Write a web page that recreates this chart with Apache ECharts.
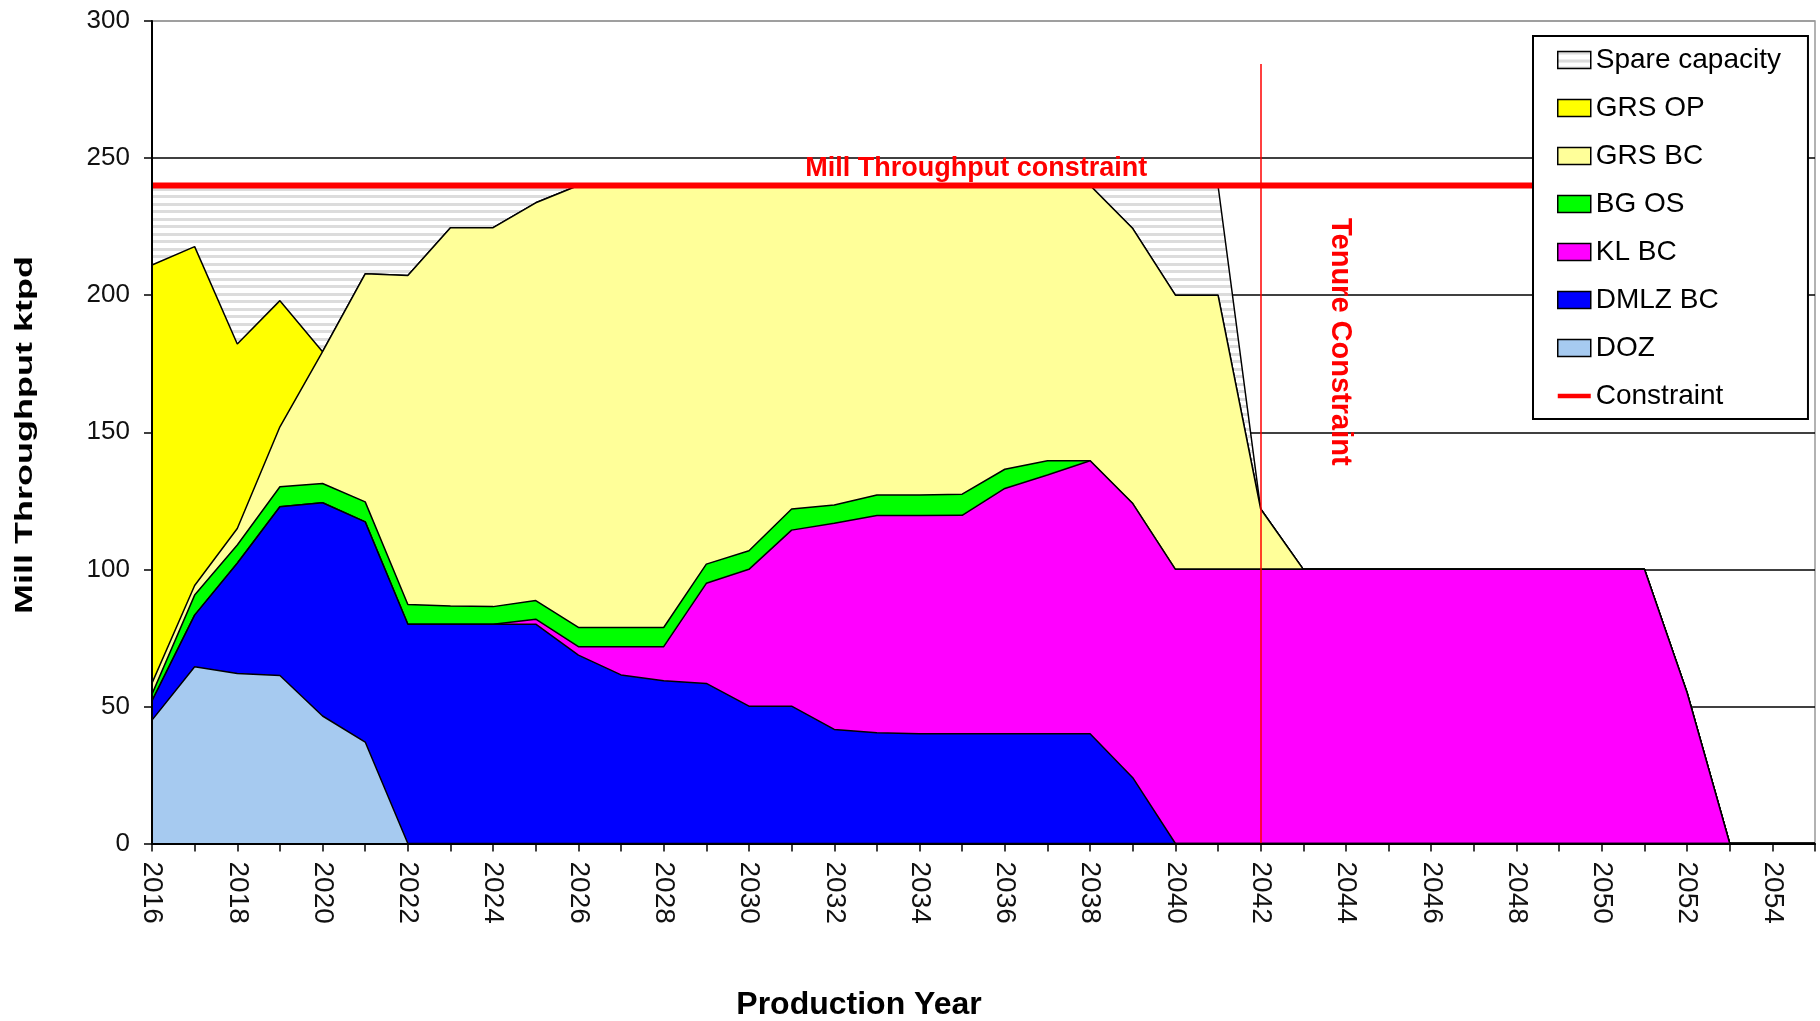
<!DOCTYPE html>
<html>
<head>
<meta charset="utf-8">
<script src="https://cdn.jsdelivr.net/npm/echarts@6/dist/echarts.min.js"></script>
<style>
html, body { margin: 0; padding: 0; background: #fff; }
#charts { width: 1820px; height: 1021px; }
</style>
</head>
<body>
<div id="charts"></div>
<script>
var FONT = 'Liberation Sans, Arial, sans-serif';

var years = ['2016', '2017', '2018', '2019', '2020', '2021', '2022', '2023', '2024', '2025',
             '2026', '2027', '2028', '2029', '2030', '2031', '2032', '2033', '2034', '2035',
             '2036', '2037', '2038', '2039', '2040', '2041', '2042', '2043', '2044', '2045',
             '2046', '2047', '2048', '2049', '2050', '2051', '2052', '2053', '2054', '2055'];

// ktpd per year (rows of 10 years)
var doz = [45, 64.5, 62, 61.3, 46.5, 37, 0, 0, 0, 0,
           0, 0, 0, 0, 0, 0, 0, 0, 0, 0,
           0, 0, 0, 0, 0, 0, 0, 0, 0, 0,
           0, 0, 0, 0, 0, 0, 0, 0, 0, 0];
var dmlzBc = [7, 18.8, 40.2, 61.5, 77.8, 80.3, 80, 80, 80, 80,
              68.7, 61.5, 59.4, 58.4, 50.1, 50.1, 41.6, 40.4, 40, 40,
              40, 40, 40, 24, 0, 0, 0, 0, 0, 0,
              0, 0, 0, 0, 0, 0, 0, 0, 0, 0];
var klBc = [0, 0, 0, 0, 0, 0, 0, 0, 0, 1.8,
            3.1, 10.3, 12.4, 36.5, 49.9, 64.2, 75.2, 79.2, 79.6, 79.7,
            89.5, 94.4, 99.6, 100, 100, 100, 100, 100, 100, 100,
            100, 100, 100, 100, 100, 100, 55, 0, 0, 0];
var bgOs = [2.5, 7.3, 6.7, 7.3, 7, 7.3, 7.2, 6.6, 6.4, 6.8,
            7, 7, 7, 7, 6.8, 7.7, 6.7, 7.5, 7.5, 7.7,
            7, 5.2, 0, 0, 0, 0, 0, 0, 0, 0,
            0, 0, 0, 0, 0, 0, 0, 0, 0, 0];
var grsBc = [4, 3.5, 6, 21.9, 48.1, 83.2, 120, 138, 138.2, 145.1,
             161.2, 161.2, 161.2, 138.1, 133.2, 118, 116.5, 112.9, 112.9, 112.6,
             103.5, 100.4, 100.4, 100.3, 100, 100, 22, 0, 0, 0,
             0, 0, 0, 0, 0, 0, 0, 0, 0, 0];
var grsOp = [152.5, 123.6, 67.3, 46, 0, 0, 0, 0, 0, 0,
             0, 0, 0, 0, 0, 0, 0, 0, 0, 0,
             0, 0, 0, 0, 0, 0, 0, 0, 0, 0,
             0, 0, 0, 0, 0, 0, 0, 0, 0, 0];
var spare = [29, 22.3, 57.8, 42, 60.6, 32.2, 32.8, 15.4, 15.4, 6.3,
             0, 0, 0, 0, 0, 0, 0, 0, 0, 0,
             0, 0, 0, 15.7, 40, 40, 0, 0, 0, 0,
             0, 0, 0, 0, 0, 0, 0, 0, 0, 0];
var constraint = [240, 240, 240, 240, 240, 240, 240, 240, 240, 240,
                  240, 240, 240, 240, 240, 240, 240, 240, 240, 240,
                  240, 240, 240, 240, 240, 240, 240, 240, 240, 240,
                  240, 240, 240, 240, 240, null, null, null, null, null];
var yTicks = [0, 300, 50];

// grey striped fill for spare capacity
var hatch = document.createElement('canvas');
hatch.width = 8; hatch.height = 15;
var hc = hatch.getContext('2d');
hc.fillStyle = '#ffffff'; hc.fillRect(0, 0, 8, 15);
hc.fillStyle = '#dcdcdc'; hc.fillRect(0, 0, 8, 3); hc.fillRect(0, 8, 8, 3);
var hatchFill = { image: hatch, repeat: 'repeat' };

function areaSeries(name, data, color, z) {
    return {
        name: name, type: 'line', stack: 'mill', data: data,
        symbol: 'none', showSymbol: false, z: z, silent: true,
        lineStyle: { color: '#000', width: 1.5 },
        itemStyle: { color: color },
        areaStyle: { color: color, opacity: 1 },
        emphasis: { disabled: true },
        animation: false
    };
}

var myChart = echarts.init(document.getElementById('charts'), null, { width: 1820, height: 1021 });

var option = {
    animation: false,
    backgroundColor: '#fff',
    grid: {
        left: 152, right: 5, top: 21, bottom: 177.5,
        containLabel: false, outerBoundsMode: 'none',
        show: true, borderColor: '#999', borderWidth: 1.5, backgroundColor: 'transparent'
    },
    legend: {
        orient: 'vertical', left: 1533, top: 36,
        padding: [9, 27, 8, 24], itemGap: 18, itemWidth: 33, itemHeight: 17,
        backgroundColor: '#fff', borderColor: '#000', borderWidth: 2,
        selectedMode: false, symbolKeepAspect: true,
        textStyle: { fontFamily: FONT, fontSize: 28, color: '#000', lineHeight: 30 },
        itemStyle: { borderColor: '#000', borderWidth: 1.5 },
        data: [
            { name: 'Spare capacity', icon: 'rect', itemStyle: { color: hatchFill } },
            { name: 'GRS OP', icon: 'rect', itemStyle: { color: '#FFFF00' } },
            { name: 'GRS BC', icon: 'rect', itemStyle: { color: '#FFFF99' } },
            { name: 'BG OS', icon: 'rect', itemStyle: { color: '#00FF00' } },
            { name: 'KL BC', icon: 'rect', itemStyle: { color: '#FF00FF' } },
            { name: 'DMLZ BC', icon: 'rect', itemStyle: { color: '#0000FF' } },
            { name: 'DOZ', icon: 'rect', itemStyle: { color: '#A6CAF0' } },
            { name: 'Constraint', icon: 'path://M0,0 L36,0 L36,5 L0,5 Z',
              itemStyle: { color: '#FF0000', borderWidth: 0 } }
        ]
    },
    xAxis: {
        type: 'category', data: years, boundaryGap: false, z: 5,
        axisLine: { show: true, lineStyle: { color: '#000', width: 2 } },
        axisTick: { show: true, interval: 0, length: 8, lineStyle: { color: '#000', width: 1.5 } },
        axisLabel: { interval: 1, rotate: -90, margin: 18, fontSize: 28, color: '#111', fontFamily: FONT },
        splitLine: { show: false }
    },
    yAxis: [
        {
            type: 'value', min: yTicks[0], max: yTicks[1], interval: yTicks[2], position: 'left', z: 5,
            axisLine: { show: true, lineStyle: { color: '#000', width: 2 } },
            axisTick: { show: true, length: 8, lineStyle: { color: '#000', width: 1.5 } },
            axisLabel: { margin: 22, fontSize: 26, color: '#111', fontFamily: FONT },
            splitLine: { show: false }
        },
        {
            type: 'value', min: yTicks[0], max: yTicks[1], interval: yTicks[2], position: 'right', z: 0,
            axisLine: { show: false }, axisTick: { show: false }, axisLabel: { show: false },
            splitLine: { show: true, lineStyle: { color: ['#000', '#000', '#000', '#000', '#000', '#000', '#999'], width: 1.5 } }
        }
    ],
    graphic: [
        {
            type: 'text', x: 25, y: 435, rotation: Math.PI / 2, scaleX: 1.5, silent: true,
            style: { text: 'Mill Throughput ktpd', fontFamily: FONT, fontSize: 24, fontWeight: 'bold', fill: '#000',
                     align: 'center', verticalAlign: 'middle', textAlign: 'center', textVerticalAlign: 'middle' }
        },
        {
            type: 'text', x: 859, y: 1005, silent: true,
            style: { text: 'Production Year', fontFamily: FONT, fontSize: 32, fontWeight: 'bold', fill: '#000',
                     align: 'center', verticalAlign: 'middle', textAlign: 'center', textVerticalAlign: 'middle' }
        }
    ],
    series: [
        areaSeries('DOZ', doz, '#A6CAF0', 2.7),
        areaSeries('DMLZ BC', dmlzBc, '#0000FF', 2.6),
        areaSeries('KL BC', klBc, '#FF00FF', 2.5),
        areaSeries('BG OS', bgOs, '#00FF00', 2.4),
        areaSeries('GRS BC', grsBc, '#FFFF99', 2.3),
        areaSeries('GRS OP', grsOp, '#FFFF00', 2.2),
        (function () {
            var s = areaSeries('Spare capacity', spare, '#eeeeee', 2.1);
            s.areaStyle = { color: hatchFill, opacity: 1 };
            return s;
        })(),
        {
            name: 'Constraint', type: 'line', data: constraint, z: 3,
            symbol: 'none', showSymbol: false, silent: true,
            lineStyle: { color: '#FF0000', width: 6 },
            itemStyle: { color: '#FF0000' },
            emphasis: { disabled: true },
            markLine: {
                silent: true, symbol: ['none', 'none'], animation: false,
                label: { show: false },
                lineStyle: { color: '#FF0000', width: 1.5, type: 'solid' },
                emphasis: { disabled: true },
                data: [[{ coord: ['2042', 284.3] }, { coord: ['2042', 0] }]]
            },
            markPoint: {
                silent: true, symbol: 'circle', symbolSize: 1, animation: false,
                itemStyle: { color: 'rgba(0,0,0,0)' },
                data: [
                    {
                        coord: ['2035', 240],
                        label: { show: true, position: 'top', distance: 3, offset: [14, 0],
                                 formatter: 'Mill Throughput constraint', color: '#FF0000',
                                 fontSize: 27, fontWeight: 'bold', fontFamily: FONT }
                    },
                    {
                        coord: ['2044', 183], symbolOffset: [-6, 0],
                        label: { show: true, position: 'inside', rotate: -90,
                                 formatter: 'Tenure Constraint', color: '#FF0000',
                                 fontSize: 29, fontWeight: 'bold', fontFamily: FONT }
                    }
                ]
            }
        }
    ]
};

myChart.setOption(option);
</script>
</body>
</html>
